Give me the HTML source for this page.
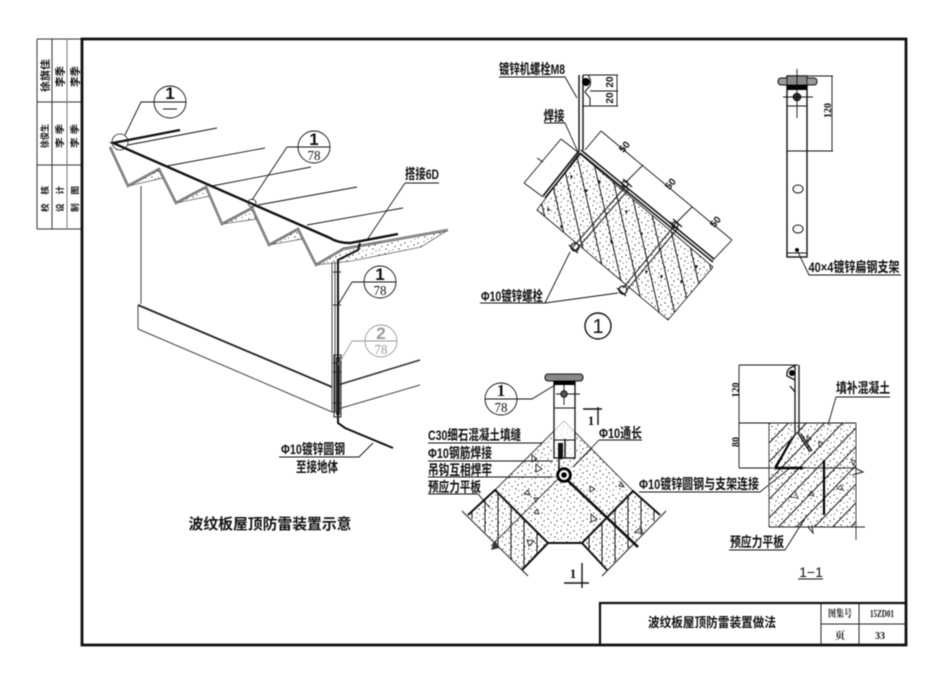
<!DOCTYPE html>
<html><head><meta charset="utf-8"><style>
html,body{margin:0;padding:0;background:#fff;width:950px;height:685px;overflow:hidden}
svg{display:block;filter:blur(.4px)}
text{font-family:"Liberation Sans","Noto Sans CJK SC",sans-serif;fill:#111;font-size:14px;font-weight:700}
.s{font-family:"Liberation Serif","Noto Serif CJK SC",serif;font-weight:700}
.m{text-anchor:middle}
.t{stroke:#111;stroke-width:.9;fill:none}
.g{stroke:#444;stroke-width:1;fill:none}
.b{stroke:#111;stroke-width:2.4;fill:none}
</style></head><body>
<svg width="950" height="685" viewBox="0 0 950 685" xmlns="http://www.w3.org/2000/svg">
<defs>
<pattern id="st" width="13" height="12" patternUnits="userSpaceOnUse">
<g fill="#222"><circle cx="2" cy="3" r=".65"/><circle cx="8" cy="1.5" r=".55"/><circle cx="11" cy="5" r=".65"/><circle cx="5" cy="6.5" r=".6"/><circle cx="9" cy="9" r=".65"/><circle cx="2.5" cy="10" r=".55"/><circle cx="12" cy="11" r=".5"/></g>
</pattern>
<pattern id="h1" width="15" height="15" patternUnits="userSpaceOnUse" patternTransform="rotate(-13)"><line x1="2" y1="0" x2="2" y2="15" stroke="#111" stroke-width="1"/></pattern>
<pattern id="h2" width="13" height="13" patternUnits="userSpaceOnUse"><line x1="4" y1="0" x2="4" y2="13" stroke="#111" stroke-width="1"/></pattern>
<pattern id="h3" width="13" height="13" patternUnits="userSpaceOnUse" patternTransform="rotate(44)"><line x1="3" y1="0" x2="3" y2="13" stroke="#111" stroke-width="1"/></pattern>
</defs>
<rect width="950" height="685" fill="#fff"/>

<!-- left table -->
<g stroke="#333" stroke-width="1" fill="none">
<path d="M37 39H82M37 102H82M37 165H82M37 229H82M37 39V229M52 39V229"/><path d="M67 39V229" stroke="#777"/>
</g>
<g>
<text transform="translate(49,92) rotate(-90)" textLength="33" lengthAdjust="spacingAndGlyphs" style="font-size:10px">徐旗佳</text>
<text transform="translate(64,87) rotate(-90)" textLength="21" lengthAdjust="spacingAndGlyphs" style="font-size:10px">李季</text>
<text transform="translate(79,87) rotate(-90)" textLength="21" lengthAdjust="spacingAndGlyphs" style="font-size:10px">李季</text>
<text transform="translate(48,148) rotate(-90)" textLength="24" lengthAdjust="spacingAndGlyphs" style="font-size:9px">徐俊生</text>
<text transform="translate(63,148) rotate(-90)" textLength="24" lengthAdjust="spacingAndGlyphs" style="font-size:9px">李 季</text>
<text transform="translate(78,148) rotate(-90)" textLength="24" lengthAdjust="spacingAndGlyphs" style="font-size:9px">李 季</text>
<text transform="translate(48,212) rotate(-90)" textLength="26" lengthAdjust="spacingAndGlyphs" style="font-size:8.5px">校　核</text>
<text transform="translate(63,212) rotate(-90)" textLength="26" lengthAdjust="spacingAndGlyphs" style="font-size:8.5px">设　计</text>
<text transform="translate(78,212) rotate(-90)" textLength="26" lengthAdjust="spacingAndGlyphs" style="font-size:8.5px">制　图</text>
</g>

<!-- frame -->
<rect x="82" y="39" width="824" height="606" fill="none" stroke="#111" stroke-width="2.8"/>
<!-- title block -->
<path d="M600 645V603H906" fill="none" stroke="#111" stroke-width="2.2"/>
<path d="M821 603V645M859 603V645M821 624H906" fill="none" stroke="#222" stroke-width="1"/>
<text x="712" y="627" class="m" textLength="128" lengthAdjust="spacingAndGlyphs" style="font-size:13px">波纹板屋顶防雷装置做法</text>
<text x="840" y="617" class="m s" textLength="24" lengthAdjust="spacingAndGlyphs" style="font-size:10px">图集号</text>
<text x="882" y="617" class="m s" textLength="24" lengthAdjust="spacingAndGlyphs" style="font-size:10px">15ZD01</text>
<text x="840" y="639" class="m s" style="font-size:10px">页</text>
<text x="880" y="639" class="m s" style="font-size:10px">33</text>

<!-- roof -->
<g class="t">
<path d="M128 145L217 128M167 166L265 148M212 186L311 167M258 205L357 187M307 225L403 208"/>
</g>
<g stroke="#222" stroke-width=".6" fill="url(#st)">
<path d="M128 186L159 169L163 178Z"/><path d="M176 203L206 187L210 196Z"/><path d="M222 224L252 208L257 219Z"/><path d="M269 245L298 229L302 239Z"/>
<path d="M316 265L343 248L448 230L421 247L352 261Z"/>
</g>
<path d="M110 147L128 186L159 169L176 203L206 187L222 224L252 208L269 245L298 229L316 265L343 249L448 230" fill="none" stroke="#222" stroke-width="2.2"/>
<path d="M110 147L128 186L159 169L176 203L206 187L222 224L252 208L269 245L298 229L316 265L343 249L448 230" fill="none" stroke="#fff" stroke-width=".7"/>
<path class="g" d="M141 186V304M332 262V412M335 262V412M138 305V329M138 329L332 412M332 412L338 412M338 409L420 385"/>
<path d="M138 305L332 387" fill="none" stroke="#222" stroke-width="1.8"/>
<path d="M338 385L420 360" fill="none" stroke="#333" stroke-width="1.6"/>
<!-- conductor -->
<path class="b" d="M180 130L113 143L330 238Q338 243 350 243L398 234"/>
<path d="M360 243L358 250L338 260V423L345 428L393 448" fill="none" stroke="#111" stroke-width="2"/>
<path d="M334 355H341V417H334Z" fill="none" stroke="#222" stroke-width="1"/>
<path d="M336 357H340V415H336Z" fill="#222"/>
<path d="M333 272H341M333 305H341M333 363H341M333 372H341M333 403H341" stroke="#222" stroke-width="1"/>
<circle cx="120" cy="142" r="8" fill="none" stroke="#222" stroke-width=".8"/>
<circle cx="252" cy="203" r="4" fill="none" stroke="#222" stroke-width=".8"/>
<!-- bubbles -->
<g class="t">
<path d="M125 135L141 102H186M287 147H330M287 147L252 200M352 282H396M352 282L338 305"/>
<circle cx="170" cy="102" r="16"/><circle cx="314" cy="147" r="16"/><circle cx="380" cy="282" r="16"/>
<path d="M163 109H177M405 183H439M405 183L367 240"/>
</g>
<g class="t" style="stroke:#999"><path d="M352 341H397M352 341L338 365"/><circle cx="381" cy="341" r="16"/></g>
<g class="s">
<text x="170" y="99" class="m" style="font-size:17px">1</text>
<text x="314" y="145" class="m" style="font-size:17px">1</text>
<text x="380" y="280" class="m" style="font-size:17px">1</text>
<text x="381" y="339" class="m" style="font-size:17px;fill:#999">2</text>
</g>
<text x="314" y="160" class="m" textLength="13" lengthAdjust="spacingAndGlyphs" style="font-size:14px;font-family:'Liberation Serif';font-weight:400">78</text>
<text x="380" y="295" class="m" textLength="13" lengthAdjust="spacingAndGlyphs" style="font-size:14px;font-family:'Liberation Serif';font-weight:400">78</text>
<text x="381" y="354" class="m" textLength="13" lengthAdjust="spacingAndGlyphs" style="font-size:14px;font-family:'Liberation Serif';font-weight:400;fill:#999">78</text>
<text x="422" y="179" class="m" textLength="34" lengthAdjust="spacingAndGlyphs">搭接6D</text>
<text x="313" y="454" class="m" textLength="64" lengthAdjust="spacingAndGlyphs">Φ10镀锌圆钢</text>
<path class="t" d="M279 457H359L373 443"/>
<text x="317" y="472" class="m" textLength="42" lengthAdjust="spacingAndGlyphs">至接地体</text>
<text x="270" y="529" class="m" textLength="163" lengthAdjust="spacingAndGlyphs" style="font-size:15px;font-family:'Noto Sans CJK SC',sans-serif">波纹板屋顶防雷装置示意</text>

<!-- detail 1 -->
<path d="M537 210L579 153L713 267L668 320Z" fill="url(#h1)" stroke="none"/>
<path d="M537 210L579 153L713 267L668 320Z" fill="url(#st)" stroke="#222" stroke-width=".9"/>
<g fill="#111" stroke="none"><path d="M547 208l3 1-2 3zM585 189l3 1-2 3zM598 180l3 1-2 3zM640 232l3 1-2 3zM625 210l3 1-2 3zM680 280l3 1-2 3zM660 275l3 1-2 3zM610 240l3 1-2 3zM570 175l3 1-2 3zM645 270l3 1-2 3zM695 265l3 1-2 3zM560 225l3 1-2 3z"/></g>
<path d="M580 153L713 262M581 150L714 259" fill="none" stroke="#111" stroke-width="1.5"/>
<path d="M578 152L543 196M580 154L545 198" fill="none" stroke="#111" stroke-width="1.6"/>
<path d="M625 187L573 247M628 190L576 250M675 225L623 288M678 228L626 291" fill="none" stroke="#222" stroke-width="1.1"/>
<path d="M579 75V152M583 75V150" fill="none" stroke="#111" stroke-width="1.4"/>
<path d="M583 75H588Q592 80 590 86Q586 90 585 92L590 98V106H583" fill="none" stroke="#111" stroke-width="1"/>
<circle cx="586" cy="82" r="4" fill="#000"/>
<g fill="none" stroke="#111" stroke-width="1.2">
<circle cx="625" cy="184" r="3"/><path d="M620 182L629 190M623 179L632 187"/>
<circle cx="675" cy="225" r="3"/><path d="M670 222L679 230M673 219L682 227"/>
<circle cx="575" cy="247" r="4"/><path d="M569 245L578 253"/>
<circle cx="623" cy="290" r="4"/><path d="M617 288L626 296"/>
</g>
<g class="t">
<path d="M601 131L732 240M601 131L585 150M643 165L625 183M692 207L674 225M732 240L713 260M561 139L524 183M561 139L579 153M524 183L543 197M537 158L543 162"/>
<path d="M583 75H618M590 106H618M617 75V106M590 91H618"/>
<path d="M499 77H565L577 98M544 123H565L578 152M480 303H545L570 252M545 303L618 293"/>
</g>
<g class="s">
<text transform="translate(627,149) rotate(-50)" class="m" style="font-size:10px">50</text>
<text transform="translate(673,186) rotate(-50)" class="m" style="font-size:10px">50</text>
<text transform="translate(718,224) rotate(-50)" class="m" style="font-size:10px">50</text>
<text transform="translate(613,82) rotate(-90)" class="m" style="font-size:10px">20</text>
<text transform="translate(613,98) rotate(-90)" class="m" style="font-size:10px">20</text>
</g>
<text x="532" y="74" class="m" textLength="66" lengthAdjust="spacingAndGlyphs">镀锌机螺栓M8</text>
<text x="554" y="121" class="m" textLength="21" lengthAdjust="spacingAndGlyphs">焊接</text>
<text x="512" y="301" class="m" textLength="62" lengthAdjust="spacingAndGlyphs">Φ10镀锌螺栓</text>
<circle cx="598" cy="326" r="13" fill="none" stroke="#111" stroke-width="1.4"/>
<text x="598" y="333" class="m" style="font-size:20px;font-weight:400">1</text>

<!-- support -->
<rect x="787" y="76" width="20" height="181" fill="none" stroke="#111" stroke-width="1.4"/>
<rect x="778" y="78" width="39" height="7" rx="3" fill="#999" stroke="#111"/>
<rect x="787" y="76" width="20" height="9" fill="#888" stroke="#111" stroke-width=".8"/>
<rect x="787" y="85" width="20" height="5" fill="#000"/>
<circle cx="797" cy="97" r="3.8" fill="#333" stroke="#111"/>
<path class="t" d="M797 69V118M783 97H813M787 106H807M787 151H833M787 253H807M807 76H833M832 76V151"/>
<ellipse cx="798" cy="189" rx="5" ry="4" fill="#fff" stroke="#111"/>
<ellipse cx="798" cy="229" rx="5" ry="4" fill="#fff" stroke="#111"/>
<circle cx="797" cy="250" r="2" fill="#000"/>
<text transform="translate(831,118) rotate(-90)" class="s" style="font-size:10px">120</text>
<text x="854" y="272" class="m" textLength="91" lengthAdjust="spacingAndGlyphs">40×4镀锌扁钢支架</text>
<path class="t" d="M798 252L809 275H901"/>

<!-- plan -->
<path d="M564 421L633 491L582 543H548L495 490Z" fill="url(#st)"/>
<path d="M495 490L548 543L522 570L468 515Z" fill="url(#h2)"/>
<path d="M495 490L548 543L522 570L468 515Z" fill="url(#st)"/>
<path d="M633 491L582 543L607 570L660 515Z" fill="url(#h2)"/>
<path d="M633 491L582 543L607 570L660 515Z" fill="url(#st)"/>
<path class="g" d="M495 490L564 421L633 491M560 477L491 546M573 467L592 448"/>
<path class="t" d="M462 511L528 576M666 511L602 576"/>
<path d="M468 515L495 490L548 543L522 570M660 515L633 491L582 543L607 570M548 543H582" fill="none" stroke="#111" stroke-width="2"/>
<path d="M564 477L638 547" fill="none" stroke="#111" stroke-width="2.6"/>
<g fill="none" stroke="#222" stroke-width=".9"><path d="M532 455l5 4-5 3zM536 464l6 5-6 3zM524 494l4-4 2 5zM534 513l3-4 2 5zM590 486l5 3-5 3zM591 514l6 5-6 3zM619 486l2-4 3 5zM635 532l6-5 2 7zM534 498l2 4 2-4zM527 540l2 6 5-5z"/></g>
<path d="M495 540l-4 10 8-2z" fill="#333"/>
<rect x="554" y="375" width="21" height="83" fill="#fff" fill-opacity=".7" stroke="#111" stroke-width="1.3"/>
<path class="t" d="M554 408H575M554 440H575M556 394H580M564 385V405"/>
<rect x="545" y="374" width="38" height="7" rx="3" fill="#888" stroke="#111"/>
<rect x="554" y="381" width="21" height="4" fill="#000"/>
<circle cx="564" cy="394" r="3.2" fill="#555" stroke="#111"/>
<rect x="558" y="443" width="5" height="16" fill="#111"/>
<path d="M559 445V472M565 439V458" stroke="#111" stroke-width="1.5"/>
<circle cx="564" cy="475" r="6.4" fill="#fff" stroke="#000" stroke-width="2.8"/>
<circle cx="564" cy="475" r="2.8" fill="#000"/>
<circle cx="501" cy="399" r="16" fill="#fff" stroke="#111" stroke-width=".9"/>
<path class="t" d="M485 399H532L555 385"/>
<text x="501" y="396" class="m s" style="font-size:17px">1</text>
<text x="501" y="412" class="m" textLength="13" lengthAdjust="spacingAndGlyphs" style="font-size:14px;font-family:'Liberation Serif';font-weight:400">78</text>
<path d="M583 409H602M598 407V425M564 583H589M582 563V588" fill="none" stroke="#111" stroke-width="1.4"/>
<text x="591" y="425" class="m s" style="font-size:13px">1</text>
<text x="573" y="578" class="m s" style="font-size:13px">1</text>
<g class="t">
<path d="M428 443H543M428 461H553M428 477H553M428 494H478L490 508"/>
<path d="M599 440H642M599 440L573 467M639 492H760L790 468"/>
</g>
<text x="428" y="440" textLength="93" lengthAdjust="spacingAndGlyphs">C30细石混凝土填缝</text>
<text x="428" y="458" textLength="64" lengthAdjust="spacingAndGlyphs">Φ10钢筋焊接</text>
<text x="428" y="475" textLength="64" lengthAdjust="spacingAndGlyphs">吊钩互相焊牢</text>
<text x="428" y="492" textLength="53" lengthAdjust="spacingAndGlyphs">预应力平板</text>
<text x="599" y="438" textLength="43" lengthAdjust="spacingAndGlyphs">Φ10通长</text>
<text x="639" y="489" textLength="120" lengthAdjust="spacingAndGlyphs">Φ10镀锌圆钢与支架连接</text>

<!-- section 1-1 -->
<rect x="769" y="423" width="87" height="104" fill="url(#h3)"/>
<rect x="769" y="423" width="87" height="104" fill="url(#st)"/>
<path class="g" d="M769 423V527M856 423V540"/>
<path class="t" d="M739 365H798M739 423H856M739 468H769M739 365V468"/>
<path d="M769 468H855L863 472L852 475M769 527H865" fill="none" stroke="#222" stroke-width="1.1"/>
<path d="M795 365V433M799 365V433" fill="none" stroke="#222" stroke-width="1.4"/>
<path d="M795 366Q786 368 787 376L795 380M790 386L795 392" fill="none" stroke="#111" stroke-width="1.3"/>
<circle cx="792" cy="373" r="3" fill="#000"/>
<path d="M796 433L775 467M798 433L810 452M801 434L812 451" fill="none" stroke="#111" stroke-width="1.5"/>
<path d="M776 467L790 442" fill="none" stroke="#000" stroke-width="2.2"/>
<path d="M775 468H803" fill="none" stroke="#000" stroke-width="2.6"/>
<path d="M824 460V515" stroke="#000" stroke-width="2.2"/>
<path d="M808 527L813 533L812 525" fill="none" stroke="#222"/>
<g fill="none" stroke="#222" stroke-width=".8"><path d="M807 436l4 3-4 3zM819 441l4 3-4 3zM790 497l5-6 3 7zM809 495l2-4 3 5zM837 489l4-4 2 5zM851 459l4 2-2 4z"/></g>
<g class="t"><path d="M836 397H890M836 397L828 425M729 550H785L807 515"/></g>
<text x="739" y="398" transform="rotate(-90 735 394)" class="m s" style="font-size:10px">120</text>
<text x="739" y="450" transform="rotate(-90 735 446)" class="m s" style="font-size:10px">80</text>
<text x="863" y="393" class="m" textLength="54" lengthAdjust="spacingAndGlyphs">填补混凝土</text>
<text x="757" y="547" class="m" textLength="54" lengthAdjust="spacingAndGlyphs">预应力平板</text>
<text x="811" y="577" class="m" style="font-size:14px;font-weight:400">1−1</text>
<path d="M798 579H823" stroke="#111" stroke-width="1"/>
</svg>
</body></html>
